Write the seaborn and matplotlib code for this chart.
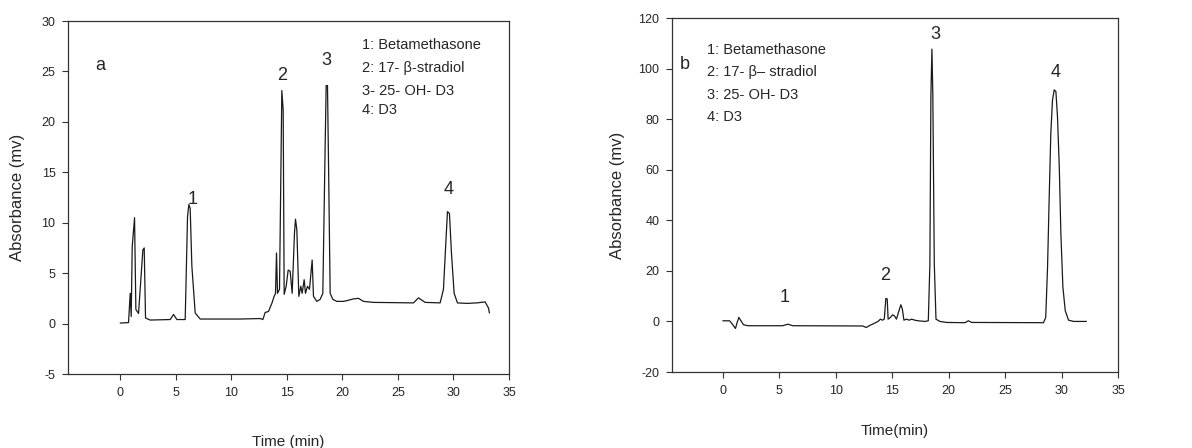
import pandas as pd
import seaborn as sns
import matplotlib.pyplot as plt

# chromatogram a (time in min, absorbance in mv)
time_a = [0.0, 0.75, 0.9, 0.99, 1.08, 1.29, 1.41, 1.65, 2.04, 2.16, 2.28, 2.7, 4.5, 4.8, 5.1,
          5.85, 6.06, 6.18, 6.3, 6.45, 6.75, 7.2, 10.8, 12.6, 12.84, 13.05, 13.35, 13.65, 13.86,
          13.98, 14.07, 14.16, 14.34, 14.55, 14.67, 14.76, 14.94, 15.12, 15.3, 15.48, 15.69,
          15.78, 15.9, 16.08, 16.26, 16.38, 16.56, 16.68, 16.86, 17.04, 17.28, 17.4, 17.7, 18.0,
          18.24, 18.42, 18.54, 18.66, 18.78, 18.9, 19.14, 19.5, 20.1, 20.5, 21.0, 21.45, 21.9,
          22.8, 26.4, 26.85, 27.45, 28.8, 29.1, 29.28, 29.46, 29.64, 29.82, 30.06, 30.36, 31.2,
          32.1, 32.85, 33.15, 33.24]
abs_a = [0.05, 0.1, 3.0, 0.7, 7.6, 10.5, 1.4, 1.0, 7.3, 7.5, 0.55, 0.35, 0.4, 0.9, 0.4,
         0.4, 10.6, 11.8, 11.4, 5.7, 1.05, 0.45, 0.45, 0.5, 0.4, 1.1, 1.2, 2.0, 2.7,
         3.0, 7.0, 3.0, 3.4, 23.1, 21.2, 2.9, 3.7, 5.3, 5.2, 3.0, 9.0,
         10.35, 9.3, 2.7, 3.7, 3.0, 4.35, 3.0, 3.7, 3.4, 6.3, 2.7, 2.2, 2.4,
         3.0, 15.6, 23.6, 23.6, 13.6, 3.0, 2.4, 2.2, 2.2, 2.3, 2.45, 2.5, 2.2,
         2.1, 2.05, 2.55, 2.1, 2.05, 3.4, 7.3, 11.1, 10.9, 7.0, 3.0, 2.05, 2.0,
         2.05, 2.15, 1.55, 1.05]

# chromatogram b
time_b = [0.0, 0.6, 0.83, 1.12, 1.27, 1.42, 1.6, 1.83, 2.2, 5.3, 5.77, 6.2, 12.4, 12.7, 12.96,
          13.3, 13.75, 13.96, 14.14, 14.3, 14.44, 14.56, 14.64, 14.85, 15.03, 15.2, 15.38, 15.6,
          15.77, 15.9, 16.04, 16.27, 16.5, 16.72, 17.0, 17.3, 17.9, 18.2, 18.34, 18.43, 18.52,
          18.6, 18.73, 18.88, 19.23, 19.82, 21.45, 21.75, 22.04, 28.4, 28.6, 28.76, 28.9, 29.05,
          29.2, 29.35, 29.5, 29.64, 29.8, 29.94, 30.12, 30.33, 30.62, 31.07, 32.2]
abs_b = [0.25, 0.25, -1.0, -2.8, -0.4, 1.6, 0.3, -1.3, -1.7, -1.7, -1.1, -1.7, -1.8, -2.4, -1.7,
         -1.0, 0.0, 0.9, 0.5, 0.9, 9.1, 8.9, 0.9, 1.6, 2.6, 2.2, 0.9, 4.2,
         6.6, 4.9, 0.5, 0.9, 0.5, 0.9, 0.5, 0.25, 0.0, 0.25, 22.8, 89.6, 107.7,
         89.6, 22.8, 0.9, 0.0, -0.4, -0.5, 0.25, -0.4, -0.5, 1.6, 21.4, 47.9, 74.4,
         87.6, 91.6, 90.9, 81.0, 61.1, 34.7, 13.5, 4.2, 0.5, 0.0, 0.0]

peak_labels = ["1", "2", "3", "4"]
peak_pos_a = [(6.5, 12.3), (14.55, 24.6), (18.6, 26.1), (29.55, 13.3)]
peak_pos_b = [(5.5, 9.5), (14.35, 18.1), (18.8, 113.4), (29.45, 98.4)]
legend_a = ["1: Betamethasone", "2: 17- β-stradiol", "3- 25- OH- D3", "4: D3"]
legend_b = ["1: Betamethasone", "2: 17- β– stradiol", "3: 25- OH- D3", "4: D3"]

sns.set_style("ticks")
plt.rcParams['font.family'] = ['Liberation Sans', 'DejaVu Sans']
plt.rcParams['axes.unicode_minus'] = False

fig = plt.figure(figsize=(11.92, 4.48), dpi=100)
ax_a = fig.add_axes([68 / 1192, 1 - 374 / 448, 441 / 1192, 353 / 448])
ax_b = fig.add_axes([672 / 1192, 1 - 372 / 448, 446 / 1192, 354 / 448])

df_a = pd.DataFrame({"t": time_a, "v": abs_a})
df_b = pd.DataFrame({"t": time_b, "v": abs_b})
sns.lineplot(data=df_a, x="t", y="v", ax=ax_a, color="#1a1a1a", lw=0.9, sort=False)
sns.lineplot(data=df_b, x="t", y="v", ax=ax_b, color="#1a1a1a", lw=0.9, sort=False)

ax_a.set_xlim(-4.7, 35)
ax_a.set_ylim(-5, 30)
ax_a.set_yticks(range(-5, 31, 5))
ax_b.set_xlim(-4.5, 35)
ax_b.set_ylim(-20, 120)
ax_b.set_yticks(range(-20, 121, 20))
for ax in (ax_a, ax_b):
    ax.set_xticks(range(0, 36, 5))
    ax.tick_params(labelsize=9, length=4, width=0.8, color="#333333", pad=5)
    for s in ax.spines.values():
        s.set_linewidth(0.9)
        s.set_color("#333333")

ax_a.set_xlabel("Time (min)", fontsize=11, labelpad=26)
ax_a.set_ylabel("Absorbance (mv)", fontsize=12, labelpad=12)
ax_b.set_xlabel("Time(min)", fontsize=11, labelpad=20)
ax_b.set_ylabel("Absorbance (mv)", fontsize=12, labelpad=10)

for lab, (x, y) in zip(peak_labels, peak_pos_a):
    ax_a.text(x, y, lab, fontsize=13, ha="center", va="center")
for lab, (x, y) in zip(peak_labels, peak_pos_b):
    ax_b.text(x, y, lab, fontsize=13, ha="center", va="center")
ax_a.text(-1.8, 25.6, "a", fontsize=13, ha="center", va="center")
ax_b.text(-3.4, 101.5, "b", fontsize=13, ha="center", va="center")

for txt, y in zip(legend_a, [27.6, 25.3, 23.1, 21.2]):
    ax_a.text(21.75, y, txt, fontsize=10.5, va="center")
for txt, y in zip(legend_b, [107.4, 98.8, 89.6, 81.0]):
    ax_b.text(-1.42, y, txt, fontsize=10.5, va="center")

fig.savefig("out.png", dpi=100)
